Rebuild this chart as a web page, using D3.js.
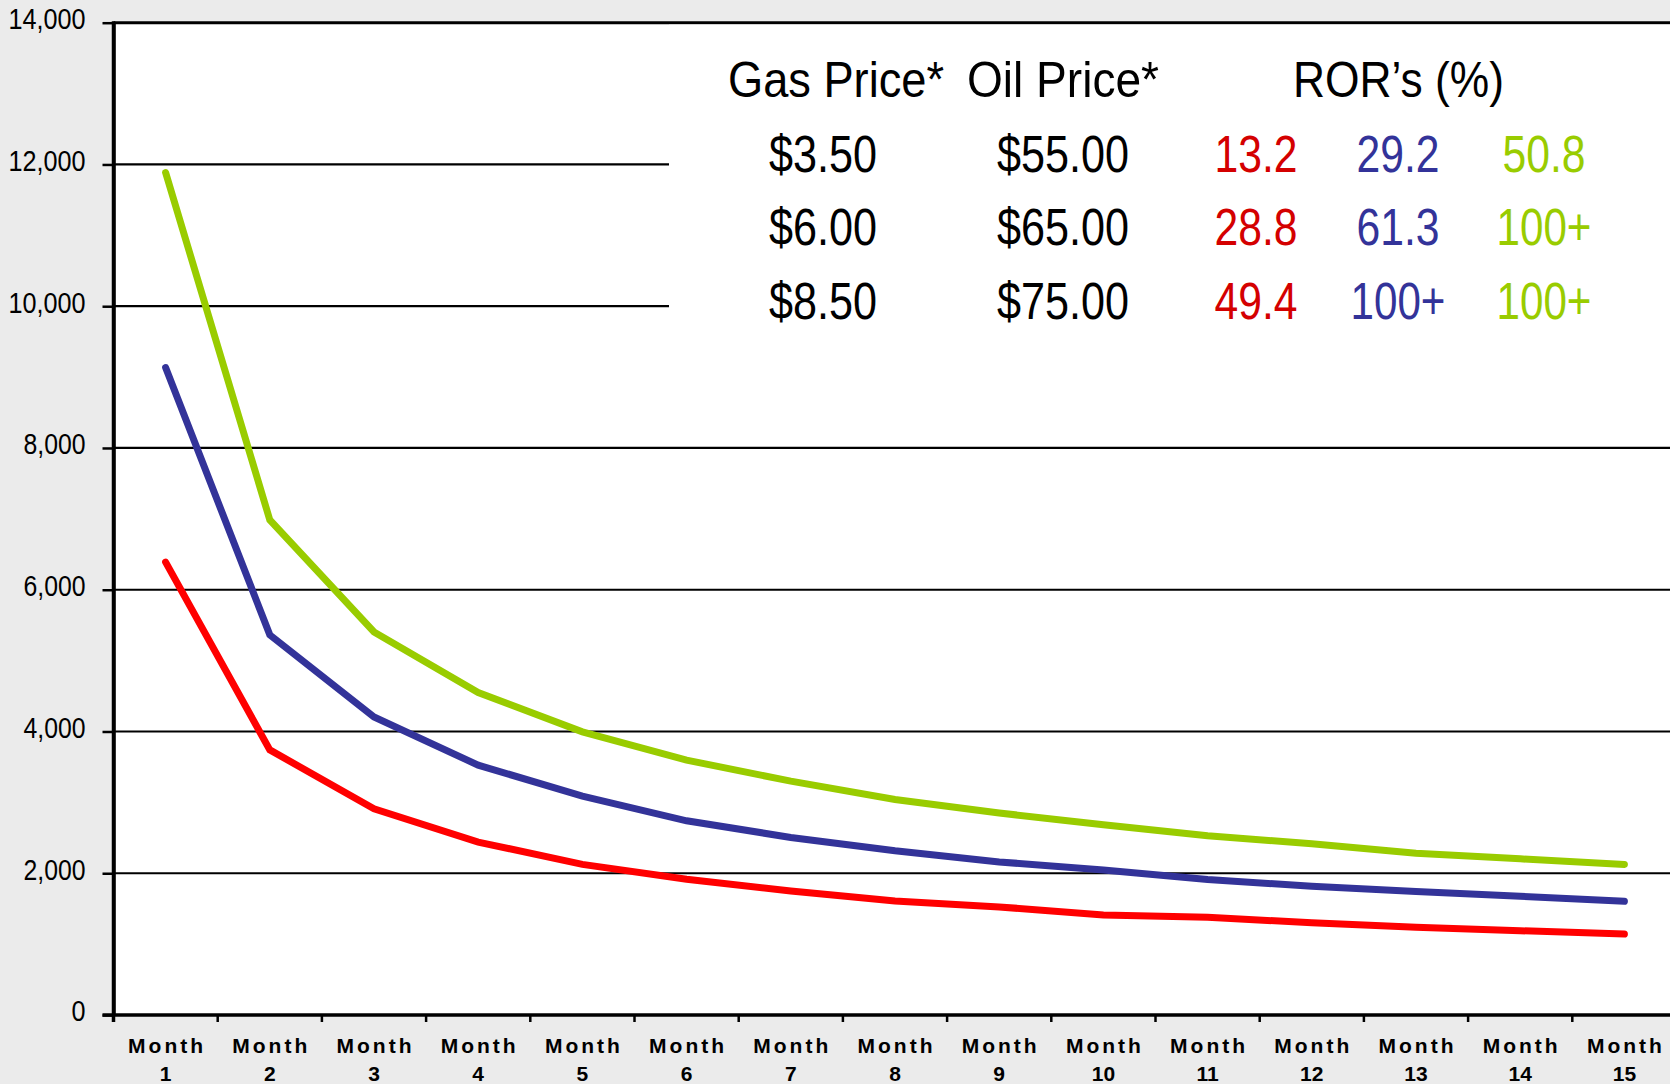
<!DOCTYPE html>
<html>
<head>
<meta charset="utf-8">
<script src="https://cdn.jsdelivr.net/npm/d3@7"></script>
<style>
  html, body { margin: 0; padding: 0; background: #ebebeb; }
  svg { display: block; }
</style>
</head>
<body>
<svg id="chart" width="1670" height="1084"></svg>
<script>
// ---------- DATA ----------
const months = ["1","2","3","4","5","6","7","8","9","10","11","12","13","14","15"];
const yTicks = [0, 2000, 4000, 6000, 8000, 10000, 12000, 14000];

const redSeries   = [6390, 3740, 2910, 2440, 2125, 1915, 1750, 1607, 1525, 1410, 1378, 1302, 1237, 1189, 1142];
const blueSeries  = [9135, 5363, 4205, 3525, 3088, 2740, 2505, 2316, 2160, 2045, 1912, 1815, 1742, 1676, 1605];
const greenSeries = [11885, 6985, 5405, 4550, 3995, 3595, 3300, 3040, 2850, 2683, 2530, 2415, 2283, 2203, 2125];

const tableHeaders = ["Gas Price*", "Oil Price*", "ROR\u2019s (%)"];
const gasPrices = ["$3.50", "$6.00", "$8.50"];
const oilPrices = ["$55.00", "$65.00", "$75.00"];
const rorRed   = ["13.2", "28.8", "49.4"];
const rorBlue  = ["29.2", "61.3", "100+"];
const rorGreen = ["50.8", "100+", "100+"];

// ---------- SETUP ----------
const svg = d3.select("#chart");
const W = 1670, H = 1084;
const plotLeft = 113.5, plotTop = 22.7, plotBottom = 1015, bandW = 104.2;
const plotRight = plotLeft + bandW * months.length;

const narrow = "'Liberation Sans Narrow','Arial Narrow','Liberation Sans',Arial,sans-serif";
const colors = { red: "#ff0000", blue: "#333399", green: "#99cc00", redText: "#d40000" };

const x = d3.scaleBand().domain(months).range([plotLeft, plotRight]).paddingInner(0).paddingOuter(0);
const y = d3.scaleLinear().domain([0, 14000]).range([plotBottom, plotTop]);

// background
svg.append("rect").attr("x", 0).attr("y", 0).attr("width", W).attr("height", H).attr("fill", "#ebebeb");
// plot area
svg.append("rect").attr("x", plotLeft).attr("y", plotTop).attr("width", plotRight - plotLeft)
  .attr("height", plotBottom - plotTop).attr("fill", "#ffffff");

// gridlines
svg.append("g").selectAll("line").data(yTicks.filter(d => d > 0)).join("line")
  .attr("x1", plotLeft).attr("x2", plotRight)
  .attr("y1", d => y(d)).attr("y2", d => y(d))
  .attr("stroke", "#000").attr("stroke-width", d => d === 14000 ? 3 : 2.2);

// white text box covering gridlines on the right
svg.append("rect").attr("x", 669).attr("y", y(14000) + 2).attr("width", W - 669)
  .attr("height", y(8000) - y(14000) - 40).attr("fill", "#fff");

// y axis
const yAxis = d3.axisLeft(y).tickValues(yTicks).tickSize(11).tickSizeOuter(0)
  .tickFormat(d3.format(","));
const gy = svg.append("g").attr("transform", `translate(${plotLeft},0)`).call(yAxis);
gy.select(".domain").attr("stroke", "#000").attr("stroke-width", 3.5);
gy.selectAll(".tick line").attr("stroke", "#000").attr("stroke-width", 2.5);
gy.selectAll(".tick text")
  .attr("x", -28).attr("dy", "0.2em")
  .attr("fill", "#000")
  .style("font-family", narrow).style("font-size", "29px")
  .attr("textLength", d => d === 0 ? 14 : (d >= 10000 ? 77 : 62))
  .attr("lengthAdjust", "spacingAndGlyphs");

// x axis line
svg.append("line").attr("x1", plotLeft - 11).attr("x2", plotRight)
  .attr("y1", plotBottom).attr("y2", plotBottom)
  .attr("stroke", "#000").attr("stroke-width", 3.5);
// x tick marks at category boundaries
const boundaries = months.map(m => x(m)).concat([x(months[months.length - 1]) + x.bandwidth()]);
svg.append("g").selectAll("line").data(boundaries).join("line")
  .attr("x1", d => d).attr("x2", d => d)
  .attr("y1", plotBottom).attr("y2", plotBottom + 7)
  .attr("stroke", "#000").attr("stroke-width", 2.5);

// x labels
const xl = svg.append("g").selectAll("text").data(months).join("text")
  .attr("text-anchor", "middle")
  .style("font-family", "'Liberation Sans',Arial,sans-serif")
  .style("font-weight", "bold").style("font-size", "21px").attr("fill", "#000");
xl.append("tspan").attr("x", d => x(d) + x.bandwidth() / 2 + 1.5).attr("y", 1053)
  .style("letter-spacing", "3px").text("Month");
xl.append("tspan").attr("x", d => x(d) + x.bandwidth() / 2).attr("y", 1081).text(d => d);

// y axis line drawn again on top (left frame)
svg.append("line").attr("x1", plotLeft).attr("x2", plotLeft).attr("y1", plotTop - 1.5).attr("y2", plotBottom + 7)
  .attr("stroke", "#000").attr("stroke-width", 3.5);

// lines
const line = d3.line().x((d, i) => x(months[i]) + x.bandwidth() / 2).y(d => y(d));
[[redSeries, colors.red], [blueSeries, colors.blue], [greenSeries, colors.green]].forEach(([s, c]) => {
  svg.append("path").datum(s).attr("d", line).attr("fill", "none")
    .attr("stroke", c).attr("stroke-width", 7)
    .attr("stroke-linecap", "round").attr("stroke-linejoin", "miter");
});

// ---------- TABLE ----------
const t = svg.append("g").style("font-family", narrow).attr("fill", "#000");
const headerSpecs = [
  { text: tableHeaders[0], x: 728, w: 216 },
  { text: tableHeaders[1], x: 967, w: 192 },
  { text: tableHeaders[2], x: 1293, w: 211 }
];
t.selectAll("text.h").data(headerSpecs).join("text").attr("class", "h")
  .attr("x", d => d.x).attr("y", 97)
  .style("font-size", "50px")
  .attr("textLength", d => d.w).attr("lengthAdjust", "spacingAndGlyphs")
  .text(d => d.text);

const rowY = [172, 245, 319];
const cols = [
  { data: gasPrices, cx: 823, color: "#000", w: d => 108 },
  { data: oilPrices, cx: 1063, color: "#000", w: d => 132 },
  { data: rorRed, cx: 1256, color: colors.redText, w: d => 83 },
  { data: rorBlue, cx: 1398, color: colors.blue, w: d => d === "100+" ? 95 : 83 },
  { data: rorGreen, cx: 1544, color: colors.green, w: d => d === "100+" ? 95 : 83 }
];
cols.forEach(col => {
  t.append("g").selectAll("text").data(col.data).join("text")
    .attr("x", col.cx).attr("y", (d, i) => rowY[i])
    .attr("text-anchor", "middle")
    .attr("fill", col.color)
    .style("font-size", "52px")
    .attr("textLength", d => col.w(d)).attr("lengthAdjust", "spacingAndGlyphs")
    .text(d => d);
});
</script>
</body>
</html>
